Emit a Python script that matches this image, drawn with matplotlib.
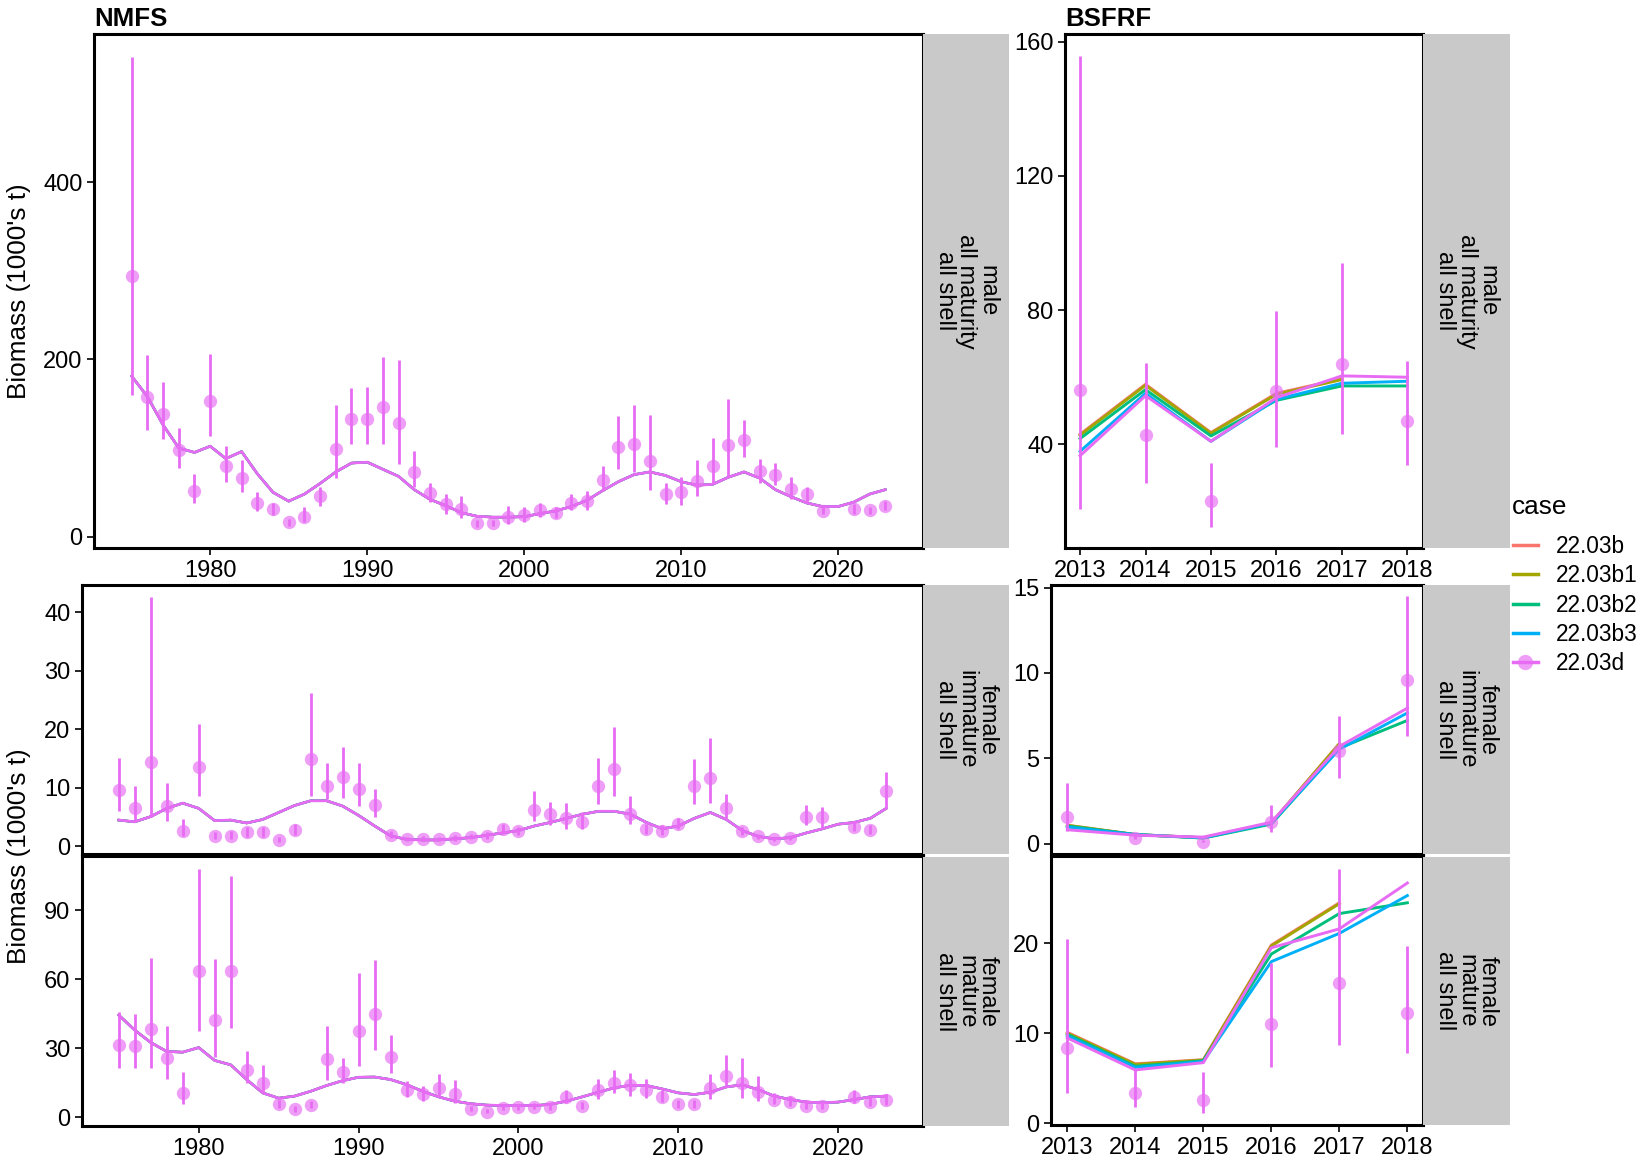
import matplotlib
matplotlib.use("Agg")
import matplotlib.pyplot as plt
from matplotlib.lines import Line2D
from matplotlib.patches import Rectangle

plt.rcParams['font.family'] = ['Liberation Sans', 'DejaVu Sans']

# ---------------- data ----------------
cases = ['22.03b', '22.03b1', '22.03b2', '22.03b3', '22.03d']
case_colors = ['#F8766D', '#A3A500', '#00BF7D', '#00B0F6', '#E76BF3']
PINK = '#E76BF3'

# NMFS survey (observed, 22.03d) - no survey in 2020
nmfs_obs_years = list(range(1975, 2020)) + [2021, 2022, 2023]

male_obs = [294, 157, 138, 98, 52, 153, 80, 66, 38, 31, 16, 22, 46, 99, 133, 133, 146, 128, 73, 49,
            37, 31, 15, 15, 22, 24, 30, 27, 38, 40, 64, 101, 104, 85, 48, 50, 63, 80, 103, 109,
            74, 70, 54, 48, 29, 31, 30, 35]
male_lo = [160, 120, 110, 78, 38, 113, 62, 50, 29, 24, 12, 16, 35, 66, 105, 104, 105, 82, 56, 39,
           26, 21, 11, 12, 14, 17, 22, 21, 30, 30, 51, 76, 73, 53, 37, 36, 46, 60, 68, 90,
           61, 58, 43, 39, 25, 26, 26, 30]
male_hi = [541, 205, 175, 123, 71, 206, 102, 86, 50, 38, 20, 33, 56, 148, 168, 169, 203, 199, 97, 61,
           48, 46, 19, 19, 35, 34, 38, 34, 48, 51, 80, 136, 148, 137, 61, 67, 86, 111, 155, 132,
           88, 83, 67, 56, 34, 37, 34, 40]

fimm_obs = [9.6, 6.5, 14.5, 6.9, 2.7, 13.6, 1.7, 1.8, 2.4, 2.4, 1.1, 2.8, 15.0, 10.3, 11.9, 9.9, 7.1, 2.0,
            1.2, 1.3, 1.2, 1.4, 1.6, 1.8, 2.9, 2.6, 6.3, 5.5, 4.8, 4.2, 10.4, 13.3, 5.6, 2.9, 2.7, 3.8,
            10.4, 11.7, 6.5, 2.6, 1.7, 1.2, 1.5, 5.1, 5.0, 3.4, 2.8, 9.4]
fimm_lo = [6.1, 4.5, 5.1, 4.4, 1.7, 8.7, 1.2, 1.2, 1.6, 1.6, 0.8, 2.0, 8.6, 8.1, 8.3, 6.9, 5.1, 1.5,
           0.9, 0.9, 0.9, 1.0, 1.2, 1.3, 2.2, 1.9, 4.4, 3.6, 3.0, 3.0, 7.2, 8.6, 3.8, 2.2, 2.0, 2.9,
           7.2, 7.5, 4.8, 2.0, 1.3, 0.9, 1.1, 3.6, 3.4, 2.6, 2.1, 6.6]
fimm_hi = [15.2, 10.3, 42.6, 10.9, 4.6, 21.0, 2.4, 2.6, 3.4, 3.4, 1.6, 3.8, 26.2, 14.3, 17.0, 14.2, 9.8, 2.7,
           1.6, 1.8, 1.6, 1.9, 2.1, 2.4, 3.8, 3.4, 9.4, 7.6, 7.4, 5.8, 15.2, 20.4, 8.7, 3.8, 3.6, 4.9,
           15.0, 18.6, 9.0, 3.4, 2.2, 1.6, 2.0, 7.0, 6.8, 4.4, 3.6, 12.8]

fmat_obs = [31.4, 30.9, 38.3, 25.6, 10.5, 63.5, 42.4, 63.7, 20.3, 14.8, 5.5, 3.3, 5.2, 25.3, 19.4, 37.6,
            44.6, 26.3, 11.7, 9.8, 12.7, 9.8, 3.6, 2.3, 4.0, 4.3, 4.5, 4.3, 8.8, 4.7, 11.9, 14.8,
            13.8, 11.9, 8.8, 5.5, 5.5, 12.5, 17.7, 14.8, 10.8, 7.6, 6.6, 4.7, 4.7, 8.6, 6.6, 7.3]
fmat_lo = [21.3, 21.3, 21.3, 16.5, 5.5, 37.4, 26.0, 38.8, 14.8, 10.5, 4.0, 2.4, 3.8, 16.3, 14.8, 22.4,
           29.2, 19.1, 8.8, 7.0, 8.8, 5.9, 2.6, 1.6, 2.9, 3.2, 3.4, 3.2, 6.2, 3.4, 7.9, 10.5,
           9.1, 8.3, 6.5, 4.0, 4.0, 7.9, 13.1, 8.3, 6.9, 5.5, 4.8, 3.4, 3.4, 6.3, 4.8, 5.3]
fmat_hi = [45.5, 45.0, 69.2, 39.7, 19.4, 108, 68.8, 105, 28.9, 22.7, 7.6, 4.6, 7.1, 39.7, 25.6, 62.6,
           68.1, 35.7, 15.5, 13.7, 18.7, 16.3, 5.0, 3.3, 5.5, 5.8, 6.0, 5.8, 11.9, 6.5, 16.5, 20.6,
           19.1, 16.5, 11.9, 7.6, 7.6, 18.8, 26.8, 25.6, 18.0, 10.5, 9.1, 6.5, 6.5, 11.7, 9.1, 10.0]

# NMFS model fits (all cases overlap almost exactly)
fit_years = list(range(1975, 2024))
male_fit = [181, 158, 126, 100, 95, 102, 88, 96, 71, 50, 40, 48, 60, 73, 83, 84, 76, 68, 53, 42,
            35, 27, 23, 22, 22, 22.5, 26, 29, 34, 41, 52, 62, 70, 73, 69, 62, 58, 59, 67, 73,
            66, 53, 45, 38, 34, 34, 39, 48, 53]
fimm_fit = [4.5, 4.2, 5.1, 6.5, 7.4, 6.5, 4.4, 4.5, 4.0, 4.6, 5.8, 7.0, 7.8, 7.8, 6.9, 5.3, 3.5, 1.8,
            1.2, 1.1, 1.1, 1.3, 1.5, 1.9, 2.3, 2.7, 3.5, 4.1, 4.8, 5.5, 6.0, 6.0, 5.5, 4.1, 3.0, 3.5,
            4.8, 5.8, 4.6, 2.7, 1.7, 1.3, 1.5, 2.3, 3.0, 3.8, 4.1, 4.8, 6.5]
fmat_fit = [44.3, 37.8, 32.4, 28.5, 28.2, 30.2, 24.6, 22.7, 16.3, 10.5, 8.2, 9.1, 11.2, 13.7, 15.8, 17.3,
            17.4, 16.3, 14.1, 11.2, 8.8, 6.9, 5.8, 5.2, 5.0, 5.0, 5.0, 5.5, 6.9, 8.8, 10.8, 12.7,
            13.8, 13.7, 12.2, 10.5, 9.8, 10.8, 13.1, 14.0, 11.9, 9.1, 7.6, 6.5, 6.2, 6.5, 7.6, 8.8, 9.1]

# BSFRF survey
bs_years = [2013, 2014, 2015, 2016, 2017, 2018]
bs_male_obs = [56.3, 42.8, 23.1, 56.0, 63.8, 46.9]
bs_male_lo = [20.6, 28.6, 15.5, 39.1, 43.2, 33.9]
bs_male_hi = [155.7, 64.3, 34.5, 79.8, 93.9, 64.8]
bs_fimm_obs = [1.54, 0.35, 0.13, 1.26, 5.42, 9.57]
bs_fimm_lo = [0.72, 0.25, 0.08, 0.67, 3.86, 6.31]
bs_fimm_hi = [3.58, 0.50, 0.22, 2.28, 7.50, 14.5]
bs_fmat_obs = [8.37, 3.35, 2.57, 11.0, 15.6, 12.3]
bs_fmat_lo = [3.35, 1.84, 1.14, 6.3, 8.65, 7.76]
bs_fmat_hi = [20.5, 5.9, 5.7, 17.8, 28.2, 19.7]

# BSFRF fits by case (22.03b and 22.03b1 stop in 2017)
bs_male_fit = {
    '22.03b': [43.0, 57.9, 43.5, 55.2, 59.5],
    '22.03b1': [42.7, 57.6, 43.3, 54.9, 59.3],
    '22.03b2': [41.7, 56.3, 42.5, 53.1, 57.4, 57.4],
    '22.03b3': [37.9, 55.2, 40.9, 53.4, 58.2, 58.8],
    '22.03d': [36.6, 54.5, 40.9, 53.9, 60.4, 60.0],
}
bs_fimm_fit = {
    '22.03b': [1.08, 0.54, 0.35, 1.21, 5.86],
    '22.03b1': [1.08, 0.54, 0.35, 1.21, 5.86],
    '22.03b2': [1.04, 0.54, 0.33, 1.15, 5.60, 7.22],
    '22.03b3': [0.98, 0.54, 0.35, 1.21, 5.53, 7.66],
    '22.03d': [0.82, 0.50, 0.39, 1.26, 5.70, 7.94],
}
bs_fmat_fit = {
    '22.03b': [10.1, 6.6, 7.06, 19.8, 24.5],
    '22.03b1': [10.0, 6.53, 7.02, 19.7, 24.4],
    '22.03b2': [9.88, 6.33, 6.94, 18.8, 23.3, 24.5],
    '22.03b3': [9.71, 6.2, 6.86, 17.96, 21.1, 25.3],
    '22.03d': [9.47, 5.92, 6.73, 19.5, 21.6, 26.7],
}

strip_labels = ['male\nall maturity\nall shell',
                'female\nimmature\nall shell',
                'female\nmature\nall shell']

# ---------------- figure ----------------
W, H = 1644, 1163
fig = plt.figure(figsize=(W / 100, H / 100), dpi=100)


def px_rect(x0, y0, x1, y1):
    return [x0 / W, 1 - y1 / H, (x1 - x0) / W, (y1 - y0) / H]


def style_axes(ax, xlim, ylim, xticks, yticks, show_x=True):
    ax.set_xlim(*xlim)
    ax.set_ylim(*ylim)
    ax.set_xticks(xticks)
    ax.set_yticks(yticks)
    for s in ax.spines.values():
        s.set_linewidth(2.2)
        s.set_color('black')
    ax.tick_params(length=4.8, width=1.2, pad=3.5, labelsize=17, colors='black')
    if not show_x:
        ax.tick_params(axis='x', bottom=False, labelbottom=False)


def add_strip(x0, y0, x1, y1, label):
    fig.patches.append(Rectangle((x0 / W, 1 - y1 / H), (x1 - x0) / W, (y1 - y0) / H,
                                 transform=fig.transFigure, facecolor='#C9C9C9',
                                 edgecolor='none'))
    fig.text((x0 + x1) / 2 / W, 1 - (y0 + y1) / 2 / H, label, rotation=-90,
             ha='center', va='center', fontsize=17, linespacing=0.95)


def draw_obs(ax, years, obs, lo, hi, ms=9.6):
    ax.vlines(years, lo, hi, color=PINK, lw=2.0, zorder=3)
    ax.plot(years, obs, 'o', color=PINK, alpha=0.65, ms=ms, mec='none', zorder=4)


def draw_nmfs_fit(ax, fit):
    for c, col in zip(cases, case_colors):
        lw = 2.0 if c == '22.03d' else 1.7
        ax.plot(fit_years, fit, color=col, lw=lw, zorder=2)


def draw_bs_fit(ax, fits):
    for c, col in zip(cases, case_colors):
        vals = fits[c]
        ax.plot(bs_years[:len(vals)], vals, color=col, lw=2.1, zorder=2)


# NMFS male
ax = fig.add_axes(px_rect(94, 34, 923, 548))
draw_nmfs_fit(ax, male_fit)
draw_obs(ax, nmfs_obs_years, male_obs, male_lo, male_hi)
style_axes(ax, (1972.6, 2025.4), (-12.8, 567), [1980, 1990, 2000, 2010, 2020], [0, 200, 400])
add_strip(923, 34, 1009, 548, strip_labels[0])

# NMFS female immature
ax = fig.add_axes(px_rect(82, 585, 923, 854))
draw_nmfs_fit(ax, fimm_fit)
draw_obs(ax, nmfs_obs_years, fimm_obs, fimm_lo, fimm_hi)
style_axes(ax, (1972.7, 2025.3), (-1.3, 44.7), [1980, 1990, 2000, 2010, 2020],
           [0, 10, 20, 30, 40], show_x=False)
add_strip(923, 585, 1009, 854, strip_labels[1])

# NMFS female mature
ax = fig.add_axes(px_rect(82, 856, 923, 1126))
draw_nmfs_fit(ax, fmat_fit)
draw_obs(ax, nmfs_obs_years, fmat_obs, fmat_lo, fmat_hi)
style_axes(ax, (1972.7, 2025.3), (-3.9, 113.5), [1980, 1990, 2000, 2010, 2020], [0, 30, 60, 90])
add_strip(923, 857, 1009, 1126, strip_labels[2])

# BSFRF male
ax = fig.add_axes(px_rect(1065, 34, 1423, 548))
draw_bs_fit(ax, bs_male_fit)
draw_obs(ax, bs_years, bs_male_obs, bs_male_lo, bs_male_hi)
style_axes(ax, (2012.77, 2018.24), (9.1, 162.3), bs_years, [40, 80, 120, 160])
add_strip(1423, 34, 1510, 548, strip_labels[0])

# BSFRF female immature
ax = fig.add_axes(px_rect(1051, 585, 1423, 854))
draw_bs_fit(ax, bs_fimm_fit)
draw_obs(ax, bs_years, bs_fimm_obs, bs_fimm_lo, bs_fimm_hi)
style_axes(ax, (2012.76, 2018.23), (-0.6, 15.15), bs_years, [0, 5, 10, 15], show_x=False)
add_strip(1423, 585, 1510, 854, strip_labels[1])

# BSFRF female mature
ax = fig.add_axes(px_rect(1051, 856, 1423, 1125))
draw_bs_fit(ax, bs_fmat_fit)
draw_obs(ax, bs_years, bs_fmat_obs, bs_fmat_lo, bs_fmat_hi)
style_axes(ax, (2012.76, 2018.23), (-0.2, 29.7), bs_years, [0, 10, 20])
add_strip(1423, 857, 1510, 1125, strip_labels[2])

# titles and axis labels
fig.text(94 / W, 1 - 19 / H, 'NMFS', fontsize=18.6, fontweight='bold', ha='left', va='center')
fig.text(1065 / W, 1 - 19 / H, 'BSFRF', fontsize=18.6, fontweight='bold', ha='left', va='center')
fig.text(19 / W, 1 - 291 / H, "Biomass (1000's t)", rotation=90, fontsize=18.8,
         ha='center', va='center')
fig.text(19 / W, 1 - 856 / H, "Biomass (1000's t)", rotation=90, fontsize=18.8,
         ha='center', va='center')

# legend
fig.text(1512 / W, 1 - 507 / H, 'case', fontsize=18.8, ha='left', va='center')
handles = [Line2D([], [], color=col, lw=2.5) for col in case_colors[:-1]]
handles.append(Line2D([], [], color=PINK, lw=2.5, marker='o', ms=11,
                      mfc=matplotlib.colors.to_rgba(PINK, 0.65), mec='none'))
fig.legend(handles, cases, loc='upper left',
           bbox_to_anchor=(1513 / W, 1 - 535 / H), frameon=False, fontsize=16.3,
           handlelength=1.1, handletextpad=0.8,
           labelspacing=0.28, borderaxespad=0, borderpad=0)

fig.savefig('out.png', dpi=100)
